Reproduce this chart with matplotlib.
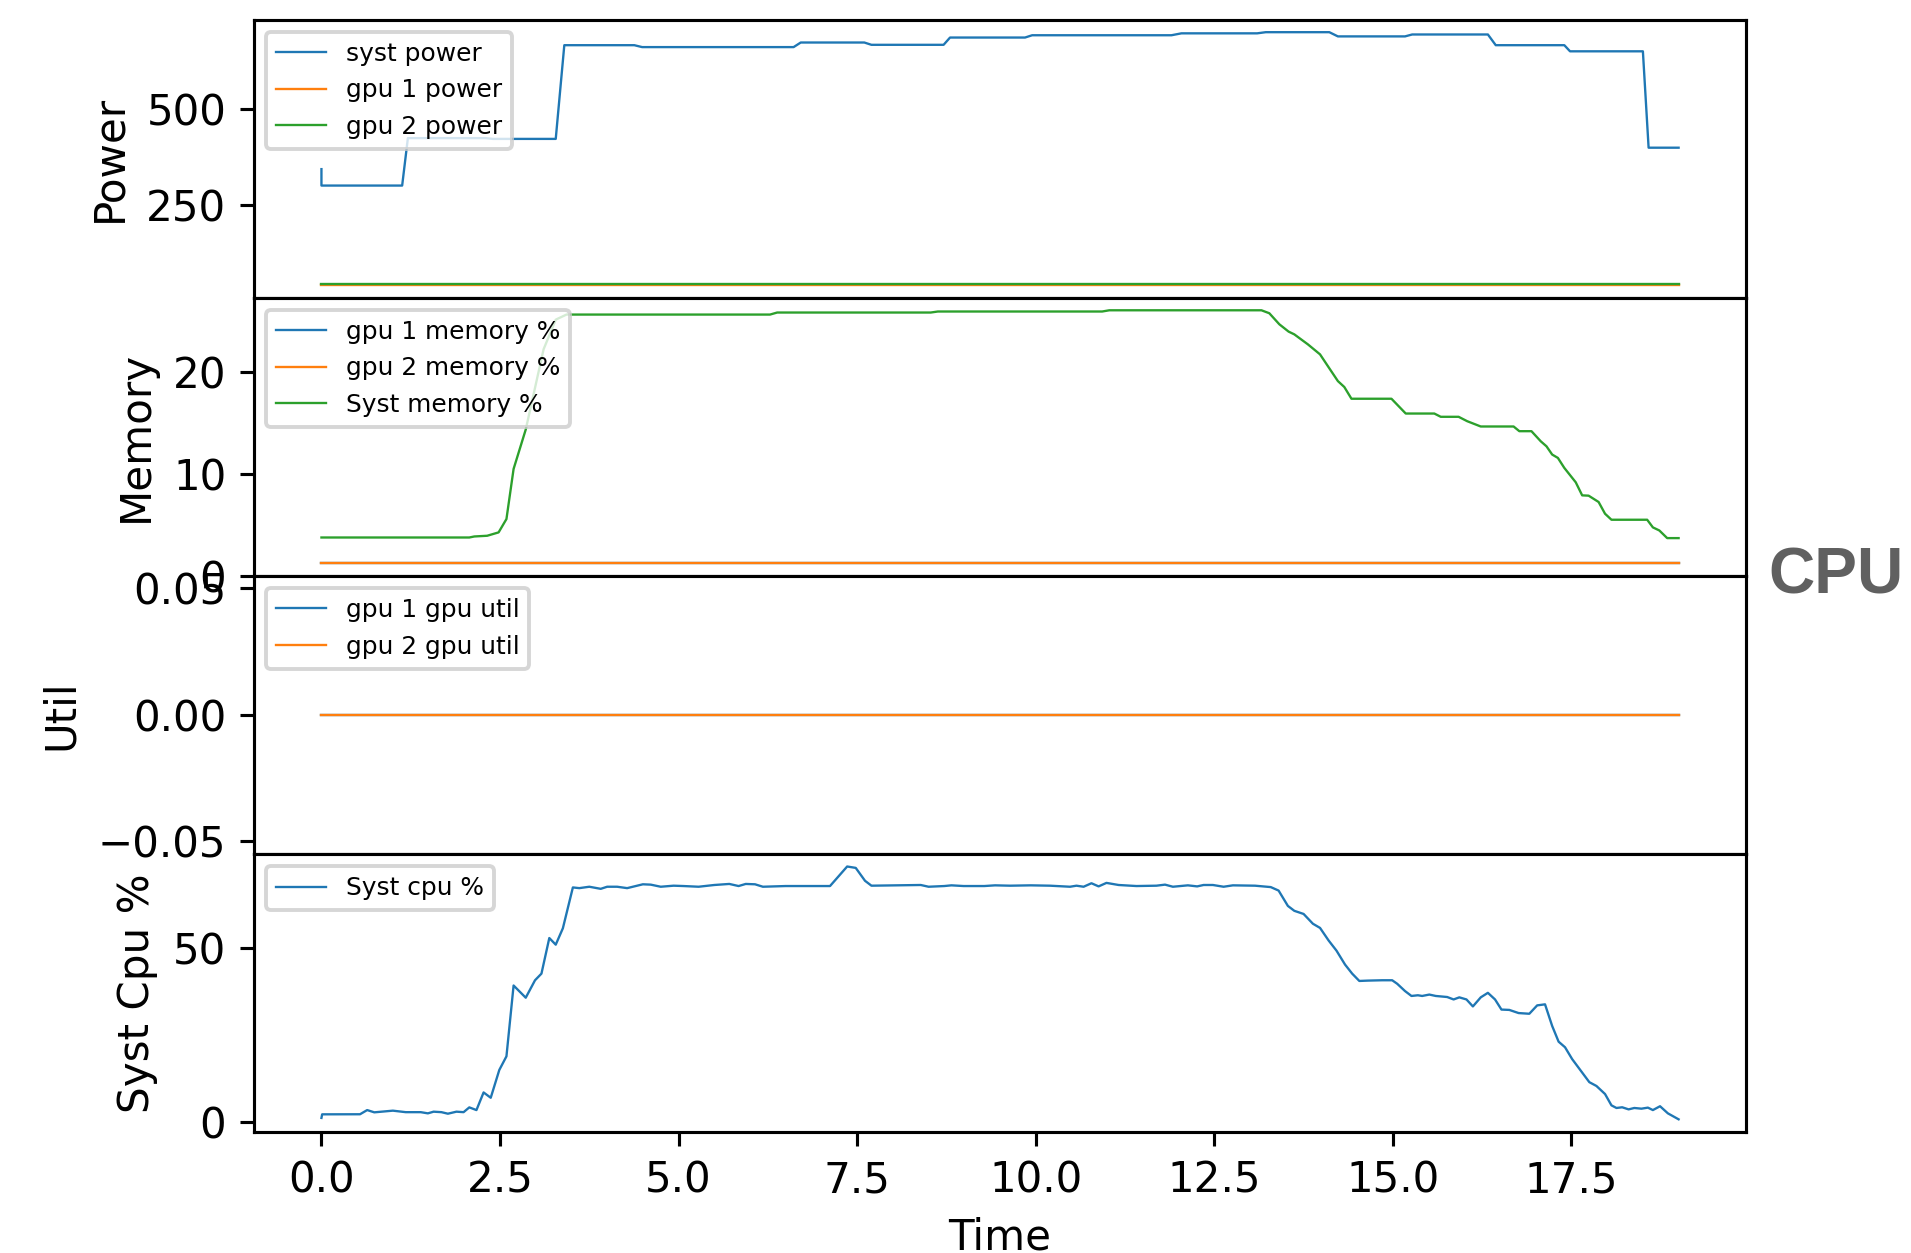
import matplotlib
matplotlib.use("Agg")
import matplotlib.pyplot as plt

# ---------------- data ----------------
power_time = [0.0, 0.0, 1.13, 1.21, 2.30, 2.40, 3.28, 3.40, 4.38, 4.49, 6.61, 6.71,
              7.60, 7.70, 8.71, 8.80, 9.85, 9.95, 11.90, 12.04, 13.10, 13.22,
              14.11, 14.23, 15.17, 15.27, 16.33, 16.44, 17.40, 17.48, 18.50, 18.58, 19.0]
syst_power = [343, 300, 300, 424, 424, 422, 422, 667, 667, 662, 662, 674,
              674, 668, 668, 687, 687, 693, 693, 698, 698, 701,
              701, 690, 690, 695, 695, 667, 667, 651, 651, 399, 399]
gpu_time = [0.0, 19.0]
gpu1_power = [40, 40]
gpu2_power = [42, 42]

gpu1_memory = [1.25, 1.25]
gpu2_memory = [1.25, 1.25]
mem_time = [0.0, 2.07, 2.14, 2.32, 2.48, 2.59, 2.69, 2.86, 3.11, 3.28, 3.43, 6.28, 6.38,
            8.53, 8.63, 10.93, 11.03, 13.16, 13.27, 13.41, 13.54, 13.62, 13.81, 13.98,
            14.12, 14.23, 14.32, 14.42, 14.98, 15.18, 15.58, 15.67, 15.92, 16.04, 16.23,
            16.69, 16.77, 16.94, 17.07, 17.15, 17.23, 17.31, 17.40, 17.56, 17.65, 17.74,
            17.88, 17.97, 18.06, 18.56, 18.64, 18.73, 18.84, 19.0]
syst_memory = [3.75, 3.75, 3.85, 3.92, 4.25, 5.56, 10.47, 14.33, 22.2, 25.1, 25.6, 25.6, 25.8,
               25.8, 25.9, 25.9, 26.02, 26.02, 25.73, 24.65, 23.93, 23.66, 22.68, 21.7,
               20.23, 19.08, 18.5, 17.35, 17.35, 15.9, 15.9, 15.58, 15.58, 15.15, 14.63,
               14.63, 14.17, 14.17, 13.18, 12.69, 11.88, 11.55, 10.57, 9.16, 7.88, 7.85,
               7.23, 6.08, 5.49, 5.49, 4.74, 4.44, 3.69, 3.69]

gpu1_util = [0.0, 0.0]
gpu2_util = [0.0, 0.0]

cpu_time = [0.0, 0.01, 0.54, 0.64, 0.74, 1.0, 1.18, 1.39, 1.49, 1.57, 1.68, 1.77, 1.89, 1.99,
            2.07, 2.17, 2.27, 2.37, 2.49, 2.59, 2.69, 2.86, 2.99, 3.08, 3.19, 3.28, 3.38,
            3.52, 3.61, 3.75, 3.91, 4.0, 4.14, 4.28, 4.50, 4.61, 4.75, 4.93, 5.07, 5.28,
            5.50, 5.71, 5.84, 5.94, 6.07, 6.18, 6.50, 7.12, 7.36, 7.48, 7.61, 7.70, 8.39,
            8.50, 8.72, 8.82, 8.99, 9.28, 9.43, 9.64, 9.93, 10.20, 10.48, 10.57, 10.67,
            10.78, 10.88, 10.99, 11.16, 11.41, 11.69, 11.81, 11.92, 12.13, 12.26, 12.35,
            12.48, 12.63, 12.76, 13.07, 13.29, 13.40, 13.53, 13.62, 13.75, 13.88, 13.98,
            14.10, 14.21, 14.33, 14.43, 14.53, 14.65, 14.85, 14.99, 15.06, 15.17, 15.26,
            15.35, 15.41, 15.51, 15.60, 15.76, 15.85, 15.93, 16.03, 16.12, 16.23, 16.33,
            16.43, 16.52, 16.63, 16.76, 16.91, 17.02, 17.13, 17.23, 17.32, 17.41, 17.51,
            17.64, 17.75, 17.85, 17.97, 18.06, 18.13, 18.21, 18.30, 18.38, 18.48, 18.57,
            18.64, 18.74, 18.85, 19.0]
syst_cpu = [1.25, 2.28, 2.3, 3.5, 2.85, 3.33, 2.9, 2.9, 2.56, 3.04, 2.9, 2.46, 3.04, 2.9,
            4.27, 3.5, 8.55, 7.03, 15.0, 18.9, 39.2, 35.7, 40.7, 42.6, 52.8, 50.9, 55.6,
            67.3, 67.1, 67.5, 66.9, 67.5, 67.5, 67.1, 68.2, 68.1, 67.5, 67.8, 67.7, 67.5,
            68.0, 68.3, 67.7, 68.3, 68.2, 67.5, 67.7, 67.7, 73.3, 72.9, 69.2, 67.8, 68.0,
            67.5, 67.7, 67.9, 67.7, 67.7, 67.9, 67.8, 67.9, 67.8, 67.5, 67.8, 67.5,
            68.5, 67.6, 68.6, 68.0, 67.7, 67.8, 68.1, 67.5, 67.9, 67.6, 68.0,
            68.0, 67.5, 67.9, 67.8, 67.4, 66.4, 62.0, 60.6, 59.7, 56.9, 55.7,
            52.1, 49.2, 45.2, 42.6, 40.5, 40.6, 40.7, 40.7, 39.7, 37.6, 36.2,
            36.4, 36.2, 36.6, 36.2, 35.9, 35.2, 35.8, 35.2, 33.2, 35.8, 37.1,
            35.2, 32.3, 32.2, 31.3, 31.1, 33.5, 33.8, 27.6, 23.1, 21.5, 18.1,
            14.5, 11.5, 10.4, 8.1, 4.85, 4.1, 4.3, 3.7, 4.1, 3.9, 4.2,
            3.5, 4.6, 2.56, 0.85]

power_ticks = [250, 500]
memory_ticks = [0, 10, 20]
util_ticks = [-0.05, 0.0, 0.05]
cpu_ticks = [0, 50]
time_ticks = [0.0, 2.5, 5.0, 7.5, 10.0, 12.5, 15.0, 17.5]

# ---------------- figure ----------------
DPI = 280
plt.rcParams['font.size'] = 10.8
fig = plt.figure(figsize=(1911 / DPI, 1253 / DPI), dpi=DPI)
axes = fig.subplots(4, 1)
fig.subplots_adjust(left=0.1327, right=0.9139, top=0.9844, bottom=0.0966, hspace=0)
lw = 0.6
legend_fs = 6.4
c = plt.rcParams['axes.prop_cycle'].by_key()['color']

ax = axes[0]
ax.plot(power_time, syst_power, lw=lw, color=c[0], label='syst power')
ax.plot(gpu_time, gpu1_power, lw=lw, color=c[1], label='gpu 1 power')
ax.plot(gpu_time, gpu2_power, lw=lw, color=c[2], label='gpu 2 power')
ax.set_yticks(power_ticks)
ax.set_ylabel('Power')

ax = axes[1]
ax.plot(gpu_time, gpu1_memory, lw=lw, color=c[0], label='gpu 1 memory %')
ax.plot(gpu_time, gpu2_memory, lw=lw, color=c[1], label='gpu 2 memory %')
ax.plot(mem_time, syst_memory, lw=lw, color=c[2], label='Syst memory %')
ax.set_yticks(memory_ticks)
ax.set_ylabel('Memory')

ax = axes[2]
ax.plot(gpu_time, gpu1_util, lw=lw, color=c[0], label='gpu 1 gpu util')
ax.plot(gpu_time, gpu2_util, lw=lw, color=c[1], label='gpu 2 gpu util')
ax.set_yticks(util_ticks)
ax.set_ylabel('Util')

ax = axes[3]
ax.plot(cpu_time, syst_cpu, lw=lw, color=c[0], label='Syst cpu %')
ax.set_yticks(cpu_ticks)
ax.set_ylabel('Syst Cpu %')
ax.set_xlabel('Time')
ax.set_xticks(time_ticks)

xl = axes[3].get_xlim()
for a in axes:
    a.set_xlim(xl)
    a.legend(loc='upper left', fontsize=legend_fs)
for a in axes[:3]:
    a.tick_params(axis='x', bottom=False, labelbottom=False)

fig.text(0.9252, 1 - 577 / 1253, 'CPU', fontsize=16.5, fontweight='bold',
         color='#606060', family=['Liberation Sans', 'DejaVu Sans'],
         ha='left', va='center')

fig.savefig('out.png', dpi=DPI)
